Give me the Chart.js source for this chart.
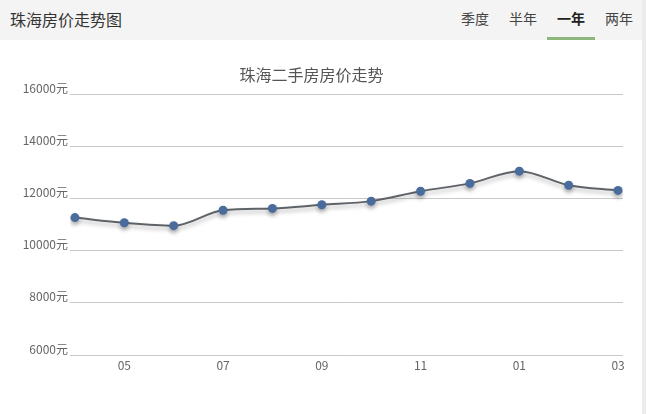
<!DOCTYPE html>
<html lang="zh">
<head>
<meta charset="UTF-8">
<script src="https://cdn.jsdelivr.net/npm/chart.js"></script>
<title>珠海房价走势图</title>
<style>
  html, body { margin: 0; padding: 0; }
  body { width: 646px; height: 414px; background: #ececec; font-family: "Noto Sans CJK SC", "Noto Sans", sans-serif; overflow: hidden; }
  .card { position: absolute; left: 0; top: 0; width: 642px; height: 414px; background: #fff; }
  .head { position: absolute; left: 0; top: 0; width: 642px; height: 40px; background: #f4f4f4; }
  .head .name { position: absolute; left: 10px; top: 7px; font-size: 16px; color: #333; }
  .tab { position: absolute; top: 8px; font-size: 14px; color: #444; width: 48px; text-align: center; }
  .tab.on { color: #222; font-weight: bold; }
  .bar { position: absolute; left: 547px; top: 37px; width: 48px; height: 3px; background: #8db67c; }
  .chart { position: absolute; left: 0; top: 40px; width: 646px; height: 374px; }
</style>
</head>
<body>
<div class="card">
  <div class="head">
    <div class="name">珠海房价走势图</div>
    <div class="tab" style="left:451px">季度</div>
    <div class="tab" style="left:499px">半年</div>
    <div class="tab on" style="left:547px">一年</div>
    <div class="tab" style="left:595px">两年</div>
    <div class="bar"></div>
  </div>
</div>
<div class="chart"><canvas id="myChart"></canvas></div>
<script>
  // months shown on the x axis (Apr .. Mar)
  var months = ['04', '05', '06', '07', '08', '09', '10', '11', '12', '01', '02', '03']
  // second hand price, yuan per m2
  var prices = [11270, 11070, 10960, 11550, 11620, 11760, 11900, 12280, 12580, 13050, 12510, 12310]
  var yTicks = [6000, 8000, 10000, 12000, 14000, 16000]

  var shadow = {
    id: 'shadow',
    beforeDatasetDraw: function (chart) {
      var c = chart.ctx
      c.save()
      c.shadowColor = 'rgba(0,0,0,0.3)'
      c.shadowBlur = 4
      c.shadowOffsetY = 3
    },
    afterDatasetDraw: function (chart) {
      chart.ctx.restore()
    }
  }

  var font = { family: '"Noto Sans CJK SC", "Noto Sans", sans-serif', size: 12 }

  var ctx = document.getElementById('myChart')
  var myChart = new Chart(ctx, {
    type: 'line',
    data: {
      datasets: [{
        label: '珠海二手房房价',
        data: prices.map(function (p, i) { return { x: i, y: p } }),
        borderColor: '#5f6368',
        borderWidth: 2,
        cubicInterpolationMode: 'monotone',
        pointRadius: 4.5,
        pointHoverRadius: 5,
        pointBackgroundColor: '#4a6c9c',
        pointBorderWidth: 0
      }]
    },
    plugins: [shadow],
    options: {
      responsive: true,
      maintainAspectRatio: false,
      animation: false,
      layout: { padding: { right: 23, bottom: 0 } },
      plugins: {
        legend: { display: false },
        tooltip: { enabled: false },
        title: {
          display: true,
          text: '珠海二手房房价走势',
          color: '#555',
          font: { family: font.family, size: 16, weight: 'normal' },
          padding: { top: 25, bottom: 10 }
        }
      },
      scales: {
        x: {
          type: 'linear',
          min: -0.1,
          max: 11.1,
          afterBuildTicks: function (s) {
            s.ticks = months.map(function (m, i) { return { value: i } })
          },
          afterFit: function (s) { s.height = 59 },
          grid: { display: false, drawTicks: false },
          border: { display: false },
          ticks: {
            autoSkip: false,
            maxRotation: 0,
            padding: 3,
            color: '#666',
            font: font,
            callback: function (v) { return v % 2 === 1 ? months[v] : '' }
          }
        },
        y: {
          min: 6000,
          max: 16000,
          afterBuildTicks: function (s) {
            s.ticks = yTicks.map(function (t) { return { value: t } })
          },
          afterFit: function (s) { s.width = 70 },
          grid: { color: '#c8c8c8', drawTicks: false },
          border: { display: false },
          ticks: {
            padding: 2,
            labelOffset: -6,
            color: '#666',
            font: font,
            callback: function (v) { return v + '元' }
          }
        }
      }
    }
  })
</script>
</body>
</html>
